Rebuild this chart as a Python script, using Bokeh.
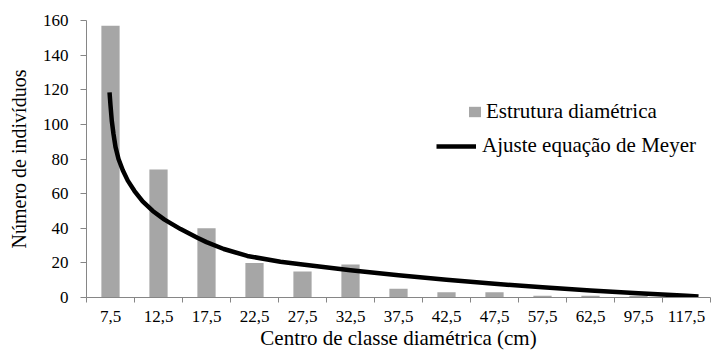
from bokeh.plotting import figure
from bokeh.models import FixedTicker, Legend, LegendItem, Range1d
from bokeh.embed import file_html
from bokeh.resources import INLINE

# ---- data ----
class_centres = ["7,5", "12,5", "17,5", "22,5", "27,5", "32,5", "37,5",
                 "42,5", "47,5", "57,5", "62,5", "97,5", "117,5"]
individuos = [157, 74, 40, 20, 15, 19, 5, 3, 3, 1, 1, 1, 1]

# Meyer fit curve
# position in class units (0 = first class centre), value in individuals
ajuste_pos = [-0.02, 0.0, 0.027, 0.062, 0.104, 0.167, 0.256, 0.36, 0.5, 0.67,
              0.88, 1.125, 1.46, 1.81, 2.0, 2.36, 2.85, 3.54, 4.0, 5.0, 6.0,
              7.0, 8.0, 9.0, 10.0, 11.0, 12.0, 12.25]
ajuste_val = [118.5, 111, 102, 94.5, 87, 80, 73.5, 67.5, 61.5, 55.5,
              50, 45, 39.5, 34.5, 32, 28, 24, 20.6, 19, 15.8, 12.8,
              10.2, 7.9, 5.9, 4.0, 2.5, 1.0, 0.6]

y_ticks = [0, 20, 40, 60, 80, 100, 120, 140, 160]

# ---- styling ----
FONT = "Liberation Serif"
AXIS_GREY = "#868686"
BAR_GREY = "#A6A6A6"

n = len(class_centres)
centres = [i + 0.5 for i in range(n)]
bounds = [float(i) for i in range(n + 1)]
curve_x = [u + 0.5 for u in ajuste_pos]

p = figure(width=724, height=352, output_backend="svg", toolbar_location=None,
           x_range=Range1d(0, n), y_range=Range1d(0, 160),
           min_border_left=86, min_border_right=14, min_border_top=20,
           min_border_bottom=54)
p.outline_line_color = None
p.xgrid.visible = False
p.ygrid.visible = False
p.background_fill_color = "white"
p.border_fill_color = "white"

bars = p.vbar(x=centres, top=individuos, width=0.38, fill_color=BAR_GREY,
              line_color=None)
curve = p.line(x=curve_x, y=ajuste_val, line_color="black", line_width=4.5,
               line_join="round", line_cap="butt")

# x axis: ticks at class boundaries, labels at centres
xa = p.xaxis[0]
xa.ticker = FixedTicker(ticks=centres, minor_ticks=bounds)
xa.major_label_overrides = {c: lab for c, lab in zip(centres, class_centres)}
xa.major_tick_out = 0
xa.major_tick_in = 0
xa.minor_tick_out = 5
xa.minor_tick_in = 0
xa.minor_tick_line_color = AXIS_GREY
xa.axis_line_color = AXIS_GREY
xa.major_label_standoff = 8
xa.major_label_text_font = FONT
xa.major_label_text_font_style = "normal"
xa.major_label_text_font_size = "17px"
xa.major_label_text_color = "black"
xa.axis_label = "Centro de classe diamétrica (cm)"
xa.axis_label_text_font = FONT
xa.axis_label_text_font_size = "21px"
xa.axis_label_text_font_style = "normal"
xa.axis_label_text_color = "black"
xa.axis_label_standoff = 1

ya = p.yaxis[0]
ya.ticker = FixedTicker(ticks=y_ticks)
ya.minor_tick_line_color = None
ya.major_tick_out = 6
ya.major_tick_in = 0
ya.major_tick_line_color = AXIS_GREY
ya.axis_line_color = AXIS_GREY
ya.major_label_standoff = 12
ya.major_label_text_font = FONT
ya.major_label_text_font_style = "normal"
ya.major_label_text_font_size = "17px"
ya.major_label_text_color = "black"
ya.axis_label = "Número de indivíduos"
ya.axis_label_text_font = FONT
ya.axis_label_text_font_size = "20px"
ya.axis_label_text_font_style = "normal"
ya.axis_label_text_color = "black"
ya.axis_label_standoff = 10

common = dict(padding=0, margin=0, spacing=0, border_line_color=None,
              background_fill_alpha=0, label_text_font=FONT,
              label_text_font_style="normal",
              label_text_font_size="21px", label_text_color="black")

leg1 = Legend(items=[LegendItem(label="Estrutura diamétrica", renderers=[bars])],
              location=(381, 173), glyph_width=15, glyph_height=13,
              label_standoff=4, **common)
leg2 = Legend(items=[LegendItem(label="Ajuste equação de Meyer", renderers=[curve])],
              location=(350, 139), glyph_width=40, glyph_height=20,
              label_standoff=6, **common)
p.add_layout(leg1, "center")
p.add_layout(leg2, "center")

open("out.html", "w").write(file_html(p, INLINE))
